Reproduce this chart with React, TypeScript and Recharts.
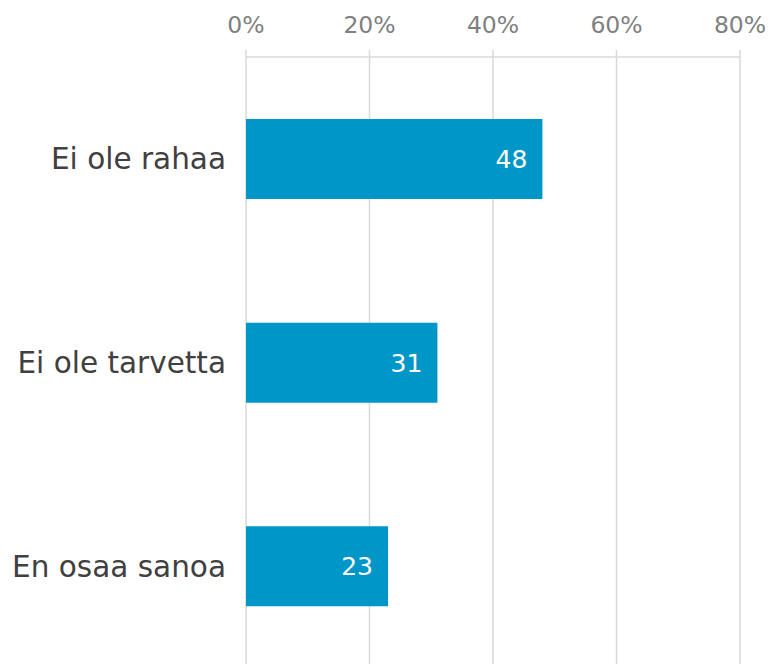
import React from 'react';
import { BarChart, Bar, XAxis, YAxis, CartesianGrid, LabelList } from 'recharts';

const categories = ['Ei ole rahaa', 'Ei ole tarvetta', 'En osaa sanoa'];
const values = [48, 31, 23];
const xTicks = [0, 20, 40, 60, 80];

const data = categories.map((name, i) => ({ name, value: values[i] }));

const FONT = '"DejaVu Sans", Verdana, sans-serif';

export default function App() {
    return (
        <div style={{ position: 'absolute', left: 0, top: 0, width: 772, height: 664, overflow: 'hidden', background: '#fff' }}>
            <BarChart
                width={772}
                height={668}
                data={data}
                layout="vertical"
                margin={{ top: 0, right: 32, left: 0, bottom: 0 }}
            >
                <CartesianGrid horizontal={false} stroke="#d9d9d9" strokeWidth={1.5} />
                <XAxis
                    type="number"
                    orientation="top"
                    domain={[0, 80]}
                    ticks={xTicks}
                    height={57}
                    tickFormatter={(v) => `${v}%`}
                    axisLine={{ stroke: '#d9d9d9', strokeWidth: 1.5 }}
                    tickLine={{ stroke: '#d9d9d9', strokeWidth: 1.5 }}
                    tickSize={7}
                    tickMargin={17}
                    tick={{ fill: '#808080', fontSize: 23.5, fontFamily: FONT }}
                    interval={0}
                />
                <YAxis
                    type="category"
                    dataKey="name"
                    width={246}
                    axisLine={false}
                    tickLine={false}
                    tickSize={0}
                    tickMargin={20}
                    tick={{ fill: '#404040', fontSize: 29.5, fontFamily: FONT }}
                />
                <Bar dataKey="value" fill="#0096c8" barSize={80} isAnimationActive={false}>
                    <LabelList
                        dataKey="value"
                        position="insideRight"
                        offset={15}
                        fill="#ffffff"
                        style={{ fontSize: 25, fontFamily: FONT }}
                    />
                </Bar>
            </BarChart>
        </div>
    );
}
